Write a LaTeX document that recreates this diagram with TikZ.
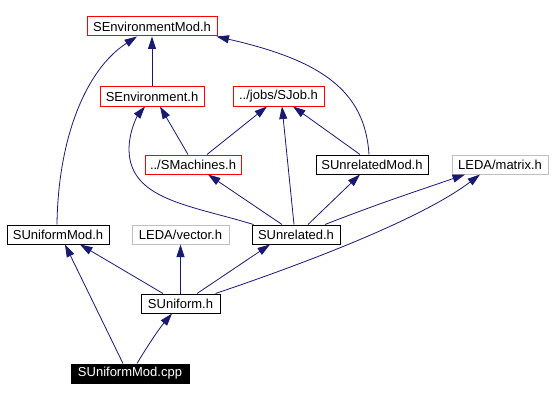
\documentclass[tikz,border=0pt]{standalone}
\usepackage{fontspec}
\setmainfont{Liberation Sans}
\usetikzlibrary{arrows.meta}
\definecolor{edgecol}{RGB}{25,25,112}
\definecolor{greybox}{RGB}{191,191,191}
\begin{document}
\begin{tikzpicture}[x=1pt,y=-1pt,
  box/.style={draw,line width=1pt,inner sep=0pt,minimum height=19pt,font=\fontsize{13}{15}\selectfont},
  redbox/.style={box,draw=red},
  blackbox/.style={box,draw=black},
  greynode/.style={box,draw=greybox},
  rootbox/.style={box,draw=black,fill=black,text=white},
  edge/.style={draw=edgecol,line width=0.8pt,-{Triangle[length=12.5pt,width=8pt]}}
]
\useasboundingbox (0,0) rectangle (553,401);
\fill[white] (0,0) rectangle (553,401);

\node[redbox,minimum width=130pt] (envmod) at (152,26.5) {SEnvironmentMod.h};
\node[redbox,minimum width=104pt] (env) at (152,96.5) {SEnvironment.h};
\node[redbox,minimum width=91pt] (sjob) at (278.5,96.5) {../jobs/SJob.h};
\node[redbox,minimum width=96pt] (smach) at (193,164.5) {../SMachines.h};
\node[blackbox,minimum width=112pt] (unrelmod) at (372,164.5) {SUnrelatedMod.h};
\node[greynode,minimum width=96pt] (matrix) at (500,164.5) {LEDA/matrix.h};
\node[blackbox,minimum width=102pt] (unimod) at (58,234.5) {SUniformMod.h};
\node[greynode,minimum width=97pt] (vector) at (180.5,234.5) {LEDA/vector.h};
\node[blackbox,minimum width=88pt] (unrel) at (296,234.5) {SUnrelated.h};
\node[blackbox,minimum width=79pt] (uniform) at (180.5,303.5) {SUniform.h};
\node[rootbox,minimum width=118pt] (cpp) at (130,373.5) {SUniformMod.cpp};

% edges
\draw[edge] (env.north) -- (envmod.south);
\draw[edge] ([xshift=-1pt]unimod.north) .. controls (58,140) and (85,70) .. ([xshift=-15pt]envmod.south);
\draw[edge] ([xshift=-3pt]unrelmod.north) .. controls (365,90) and (320,60) .. ([xshift=-1pt]envmod.south east);
\draw[edge] ([xshift=-5pt]smach.north) -- ([xshift=8pt]env.south);
\draw[edge] ([xshift=14pt]smach.north) -- ([xshift=-11.5pt]sjob.south);
\draw[edge] ([xshift=2pt]unrel.north west) .. controls (190,205) and (130,200) .. (129,150) .. controls (129,130) and (138,115) .. ([xshift=-7pt]env.south);
\draw[edge] ([xshift=-14pt]unrel.north) -- ([xshift=15pt]smach.south);
\draw[edge] ([xshift=-2pt]unrel.north) -- ([xshift=3.5pt]sjob.south);
\draw[edge] ([xshift=12pt]unrel.north) -- ([xshift=-12pt]unrelmod.south);
\draw[edge] ([xshift=29pt]unrel.north) .. controls (380,203) and (420,190) .. ([xshift=-35pt]matrix.south);
\draw[edge] ([xshift=-12pt]unrelmod.north) -- ([xshift=14.5pt]sjob.south);
\draw[edge] ([xshift=-17.5pt]uniform.north) -- ([xshift=22pt]unimod.south);
\draw[edge] (uniform.north) -- (vector.south);
\draw[edge] ([xshift=16.5pt]uniform.north) -- ([xshift=-26pt]unrel.south);
\draw[edge] ([xshift=-5pt]uniform.north east) .. controls (300,265) and (420,220) .. ([xshift=-20pt]matrix.south);
\draw[edge] ([xshift=-7pt]cpp.north) -- ([xshift=7pt]unimod.south);
\draw[edge] ([xshift=7pt]cpp.north) .. controls (145,350) and (158,330) .. ([xshift=-8.5pt]uniform.south);
\end{tikzpicture}
\end{document}
